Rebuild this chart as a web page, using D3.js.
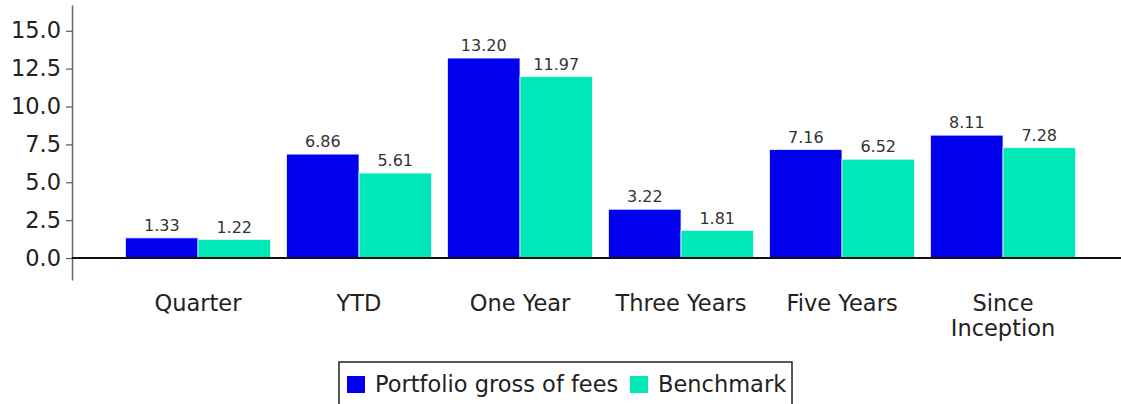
<!DOCTYPE html>
<html>
<head>
<meta charset="utf-8">
<script src="https://cdn.jsdelivr.net/npm/d3@7"></script>
<style>
  body { margin: 0; background: #fff; }
  text { font-family: "DejaVu Sans", sans-serif; }
</style>
</head>
<body>
<div id="wrapper"></div>
<script>
const categories = ["Quarter", "YTD", "One Year", "Three Years", "Five Years", "Since Inception"];
const seriesNames = ["Portfolio gross of fees", "Benchmark"];
const portfolio = [1.33, 6.86, 13.20, 3.22, 7.16, 8.11];
const benchmark = [1.22, 5.61, 11.97, 1.81, 6.52, 7.28];
const yTicks = [0, 2.5, 5, 7.5, 10, 12.5, 15];
const colors = ["#0000ee", "#00e8b8"];

const width = 1121, height = 404;
const svg = d3.select("#wrapper").append("svg")
    .attr("width", width)
    .attr("height", height);

const x = d3.scaleBand()
    .domain(categories)
    .range([117.5, 1083.5])
    .paddingInner(0.1)
    .paddingOuter(0.05);

const xSub = d3.scaleBand()
    .domain(seriesNames)
    .range([0, x.bandwidth()]);

const y = d3.scaleLinear()
    .domain([-1.45, 16.7])
    .range([280, 5]);

// y axis
const yAxis = svg.append("g")
    .attr("transform", "translate(72,0)")
    .call(d3.axisLeft(y).tickValues(yTicks).tickFormat(d3.format(".1f")).tickSize(6).tickSizeOuter(0).tickPadding(5));
yAxis.select(".domain").attr("stroke", "#666").attr("stroke-width", 1.5);
yAxis.selectAll(".tick line").attr("stroke", "#555").attr("stroke-width", 1.2);
yAxis.selectAll(".tick text")
    .attr("font-size", 22.5)
    .attr("fill", "#222")
    .attr("font-family", "DejaVu Sans");

const rows = categories.map((c, i) => ({ cat: c, vals: [portfolio[i], benchmark[i]] }));

const groups = svg.append("g").selectAll("g")
    .data(rows)
    .join("g")
    .attr("transform", d => `translate(${x(d.cat)},0)`);

groups.selectAll("rect")
    .data(d => d.vals.map((v, k) => ({ name: seriesNames[k], v, k })))
    .join("rect")
    .attr("x", d => xSub(d.name))
    .attr("y", d => y(d.v))
    .attr("width", xSub.bandwidth())
    .attr("height", d => y(0) - y(d.v))
    .attr("fill", d => colors[d.k])
    .attr("stroke", "#e8f0ff")
    .attr("stroke-width", 0.8);

groups.selectAll("text.val")
    .data(d => d.vals.map((v, k) => ({ name: seriesNames[k], v, k })))
    .join("text")
    .attr("class", "val")
    .attr("x", d => xSub(d.name) + xSub.bandwidth() / 2)
    .attr("y", d => y(d.v) - 7)
    .attr("text-anchor", "middle")
    .attr("font-size", 16)
    .attr("fill", "#333")
    .text(d => d3.format(".2f")(d.v));

// zero line
svg.append("line")
    .attr("x1", 72).attr("x2", width)
    .attr("y1", y(0)).attr("y2", y(0))
    .attr("stroke", "#111")
    .attr("stroke-width", 2);

// category labels
const catText = svg.append("g").selectAll("text")
    .data(categories)
    .join("text")
    .attr("x", d => x(d) + x.bandwidth() / 2)
    .attr("y", 311)
    .attr("text-anchor", "middle")
    .attr("font-size", 22.5)
    .attr("fill", "#222");
catText.each(function(d) {
    const words = d === "Since Inception" ? ["Since", "Inception"] : [d];
    const t = d3.select(this);
    words.forEach((w, i) => {
        t.append("tspan")
            .attr("x", x(d) + x.bandwidth() / 2)
            .attr("dy", i === 0 ? 0 : 25)
            .text(w);
    });
});

// legend
const legend = svg.append("g");
legend.append("rect")
    .attr("x", 339).attr("y", 362)
    .attr("width", 453).attr("height", 45)
    .attr("fill", "#fff")
    .attr("stroke", "#222")
    .attr("stroke-width", 1.5);

const legendItems = [
    { name: seriesNames[0], color: colors[0], x: 347 },
    { name: seriesNames[1], color: colors[1], x: 630 }
];
legendItems.forEach(it => {
    legend.append("rect")
        .attr("x", it.x).attr("y", 376)
        .attr("width", 18).attr("height", 17)
        .attr("fill", it.color);
    legend.append("text")
        .attr("x", it.x + 28).attr("y", 392)
        .attr("font-size", 22.5)
        .attr("fill", "#222")
        .text(it.name);
});
</script>
</body>
</html>
